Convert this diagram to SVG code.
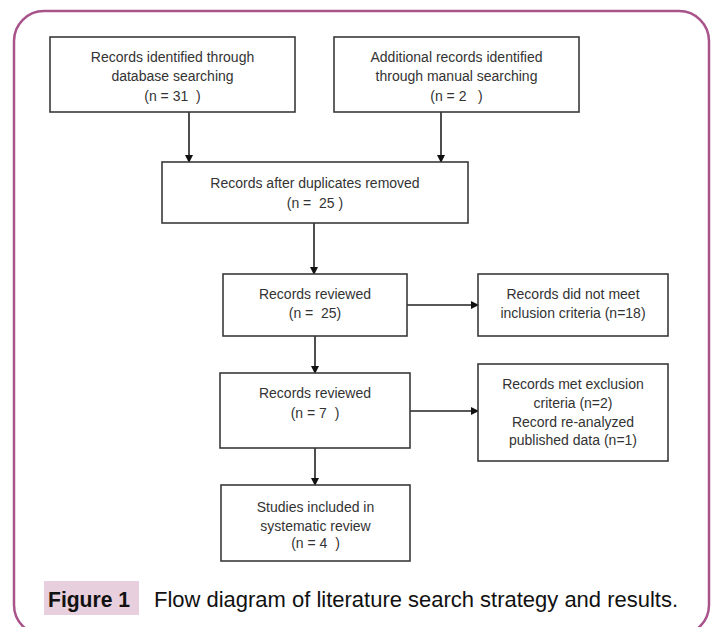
<svg xmlns="http://www.w3.org/2000/svg" width="715" height="627" viewBox="0 0 715 627">
<style>
.box{fill:#fff;stroke:#3a3a3a;stroke-width:1.6}
.t{font-family:"Liberation Sans",Arial,sans-serif;font-size:14px;fill:#333;text-anchor:middle}
.c{stroke:#222;stroke-width:1.6;fill:none}
</style>
<defs>
<marker id="ah" markerWidth="8" markerHeight="8" refX="7" refY="4" orient="auto" markerUnits="userSpaceOnUse">
<path d="M0,0 L8,4 L0,8 Z" fill="#111"/>
</marker>
</defs>
<rect width="715" height="627" fill="#fff"/>
<rect x="14" y="11" width="695" height="624" rx="30" ry="30" fill="none" stroke="#a8538a" stroke-width="2.5"/>
<g id="connectors">
<line class="c" x1="189" y1="112" x2="189" y2="162" marker-end="url(#ah)"/>
<line class="c" x1="441" y1="112" x2="441" y2="162" marker-end="url(#ah)"/>
<line class="c" x1="314" y1="223" x2="314" y2="274" marker-end="url(#ah)"/>
<line class="c" x1="407" y1="305" x2="478" y2="305" marker-end="url(#ah)"/>
<line class="c" x1="315" y1="336" x2="315" y2="373" marker-end="url(#ah)"/>
<line class="c" x1="410" y1="411" x2="478" y2="411" marker-end="url(#ah)"/>
<line class="c" x1="315" y1="448" x2="315" y2="485" marker-end="url(#ah)"/>
</g>
<g id="n1">
<rect class="box" x="50" y="37" width="245" height="75"/>
<text class="t" x="172.5" y="62">Records identified through</text>
<text class="t" x="172.5" y="81">database searching</text>
<text class="t" x="172.5" y="100.5" xml:space="preserve">(n = 31  )</text>
</g>
<g id="n2">
<rect class="box" x="334" y="37" width="245" height="75"/>
<text class="t" x="456.5" y="62">Additional records identified</text>
<text class="t" x="456.5" y="81">through manual searching</text>
<text class="t" x="456.5" y="100.5" xml:space="preserve">(n = 2   )</text>
</g>
<g id="n3">
<rect class="box" x="162" y="162" width="306" height="61"/>
<text class="t" x="315" y="188">Records after duplicates removed</text>
<text class="t" x="315" y="208" xml:space="preserve">(n =  25 )</text>
</g>
<g id="n4">
<rect class="box" x="223" y="274" width="184" height="62"/>
<text class="t" x="315" y="299">Records reviewed</text>
<text class="t" x="315" y="318" xml:space="preserve">(n =  25)</text>
</g>
<g id="n5">
<rect class="box" x="478" y="274" width="190" height="62"/>
<text class="t" x="573" y="299">Records did not meet</text>
<text class="t" x="573" y="318">inclusion criteria (n=18)</text>
</g>
<g id="n6">
<rect class="box" x="478" y="364" width="190" height="97"/>
<text class="t" x="573" y="389">Records met exclusion</text>
<text class="t" x="573" y="408">criteria (n=2)</text>
<text class="t" x="573" y="427">Record re-analyzed</text>
<text class="t" x="573" y="445">published data (n=1)</text>
</g>
<g id="n7">
<rect class="box" x="220" y="373" width="190" height="75"/>
<text class="t" x="315" y="398">Records reviewed</text>
<text class="t" x="315" y="418" xml:space="preserve">(n = 7  )</text>
</g>
<g id="n8">
<rect class="box" x="221" y="485" width="189" height="76"/>
<text class="t" x="315.5" y="512">Studies included in</text>
<text class="t" x="315.5" y="531">systematic review</text>
<text class="t" x="315.5" y="548" xml:space="preserve">(n = 4  )</text>
</g>
<g id="caption">
<rect x="44" y="581" width="95" height="34" fill="#e8cfdd"/>
<text x="48" y="607" font-family="Liberation Sans,Arial,sans-serif" font-weight="bold" font-size="22" fill="#111" textLength="82" lengthAdjust="spacingAndGlyphs">Figure 1</text>
<text x="154" y="607" font-family="Liberation Sans,Arial,sans-serif" font-size="22" fill="#111" textLength="524" lengthAdjust="spacingAndGlyphs">Flow diagram of literature search strategy and results.</text>
</g>
</svg>
